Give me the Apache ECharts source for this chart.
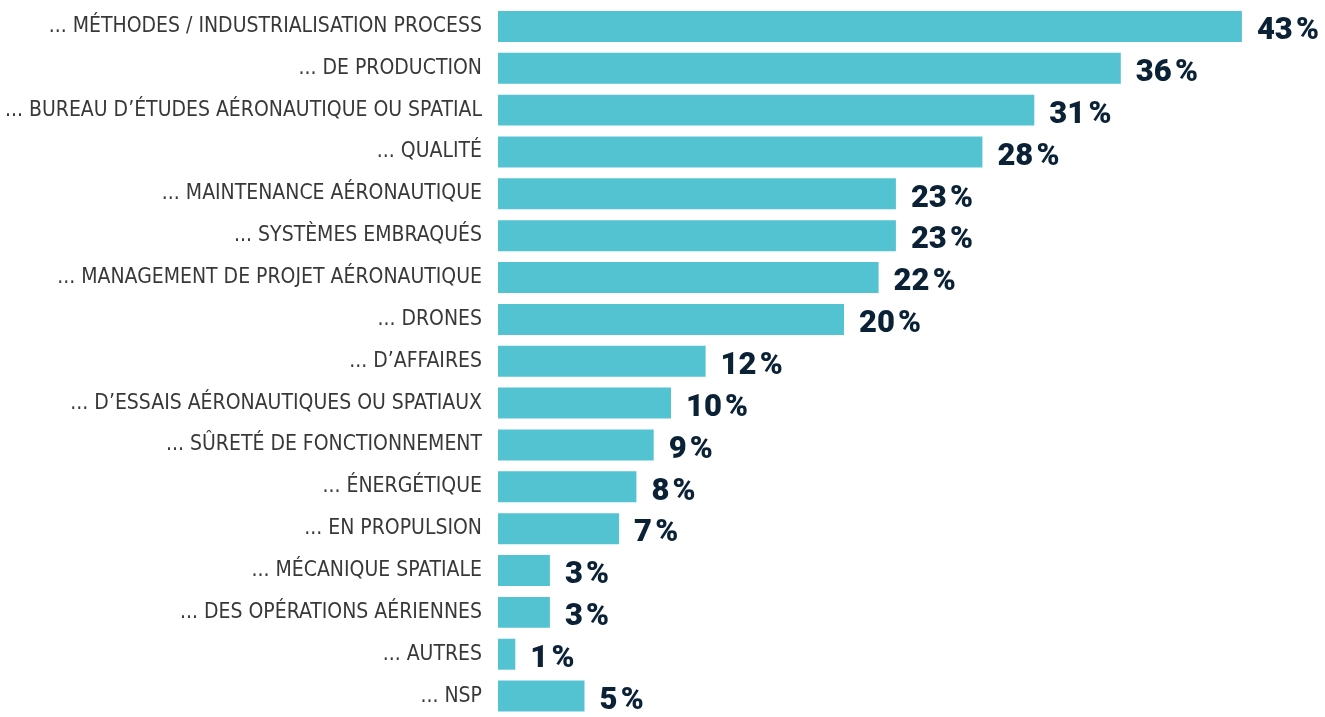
<!DOCTYPE html>
<html>
<head>
<meta charset="utf-8">
<script src="https://cdn.jsdelivr.net/npm/echarts@6/dist/echarts.min.js"></script>
<style>
html, body { margin: 0; padding: 0; background: #fff; }
#container { width: 1325px; height: 717px; }
</style>
</head>
<body>
<div id="container"></div>
<script>
var dom = document.getElementById("container");
var myChart = echarts.init(dom);

var categories = [
	"... MÉTHODES / INDUSTRIALISATION PROCESS",
	"... DE PRODUCTION",
	"... BUREAU D’ÉTUDES AÉRONAUTIQUE OU SPATIAL",
	"... QUALITÉ",
	"... MAINTENANCE AÉRONAUTIQUE",
	"... SYSTÈMES EMBRAQUÉS",
	"... MANAGEMENT DE PROJET AÉRONAUTIQUE",
	"... DRONES",
	"... D’AFFAIRES",
	"... D’ESSAIS AÉRONAUTIQUES OU SPATIAUX",
	"... SÛRETÉ DE FONCTIONNEMENT",
	"... ÉNERGÉTIQUE",
	"... EN PROPULSION",
	"... MÉCANIQUE SPATIALE",
	"... DES OPÉRATIONS AÉRIENNES",
	"... AUTRES",
	"... NSP"
];
var values = [43, 36, 31, 28, 23, 23, 22, 20, 12, 10, 9, 8, 7, 3, 3, 1, 5];

var barColor = '#53c3d2';
var valueColor = '#0b2236';

var option = {
	animation: false,
	grid: {
		left: 498,
		right: 48.5,
		top: 5.5,
		bottom: -2.5
	},
	xAxis: {
		type: 'value',
		min: 0,
		max: 45,
		show: false
	},
	yAxis: {
		type: 'category',
		inverse: true,
		data: categories,
		axisLine: { show: false },
		axisTick: { show: false },
		splitLine: { show: false },
		axisLabel: {
			margin: 16,
			color: '#383838',
			fontFamily: 'DejaVu Sans Condensed',
			fontSize: 21
		}
	},
	series: [{
		type: 'bar',
		data: values,
		barCategoryGap: '26%',
		itemStyle: { color: barColor },
		label: {
			show: true,
			position: 'right',
			distance: 15,
			offset: [0, 5],
			color: valueColor,
			fontFamily: 'Roboto',
			fontWeight: 900,
			fontSize: 31,
			formatter: function (p) { return p.value + '\u200A%'; }
		}
	}]
};

myChart.setOption(option);
</script>
</body>
</html>
